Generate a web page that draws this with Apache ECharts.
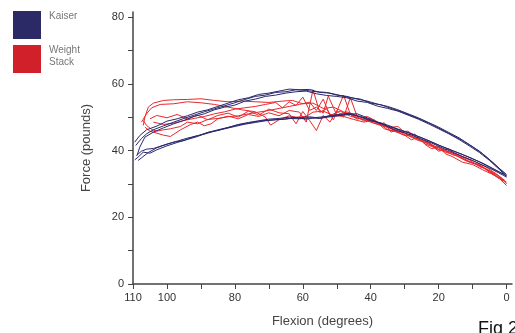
<!DOCTYPE html>
<html>
<head>
<meta charset="utf-8">
<script src="https://cdn.jsdelivr.net/npm/echarts@6/dist/echarts.min.js"></script>
<style>
html,body{margin:0;padding:0;background:#fff;}
#chart{width:515px;height:333px;}
</style>
</head>
<body>
<div id="chart"></div>
<script>
// ---- data (flexion degrees, force pounds) ----
const legendNames = ['Kaiser', 'Weight Stack'];
const xTickValues = [0, 10, 20, 30, 40, 50, 60, 70, 80, 90, 100, 110];
const xLabelValues = [0, 20, 40, 60, 80, 100, 110];
const yTickValues = [0, 10, 20, 30, 40, 50, 60, 70, 80];
const yLabelValues = [0, 20, 40, 60, 80];

const kaiser1 = [[109.2,41.5],[107.5,43.6],[106,45],[104,46.2],[101,47.4],[98,48.5],[95,49.6],[92,50.6],[89,51.6],[86,52.5],[83,53.4],[80,54.3],[77,55.3],[74,56.2],[71,56.6],[68,57.4],[65,57.6],[62,58.2],[59,58],[56,57.6],[53,57.4],[50,56.6],[47,56.2],[44,55.4],[41,54.8],[38,53.9],[35,53.2],[32,52.2],[29,51],[26,49.8],[23,48.4],[20,47],[17,45.4],[14,43.8],[11,41.8],[8,39.8],[5,37.2],[2,34.5],[0.3,33]];
const kaiser2 = [[108.8,38.5],[108,41],[106.5,44],[104,45.5],[101,46.8],[98,48],[95,49],[92,50.2],[89,51],[86,52.2],[83,53],[80,53.6],[77,54.8],[74,55.4],[71,56.2],[68,56.6],[65,57.2],[62,57.6],[59,57.8],[56,57],[53,56.5],[50,56.2],[47,55.8],[44,54.8],[41,54.4],[38,53.3],[35,52.6],[32,51.8],[29,50.6],[26,49.4],[23,48],[20,46.5],[17,45],[14,43.3],[11,41.4],[8,39.4],[5,37],[2,34.2],[0.3,32.6]];
const kaiser3 = [[109.5,42.5],[108,44.5],[106,46.2],[103,47.3],[100,48.8],[97,49.5],[94,50.4],[91,51.5],[88,52.2],[85,53.2],[82,54.2],[79,55.2],[76,55.8],[73,56.8],[70,57.2],[67,57.8],[64,58.4],[61,58.2],[58,58.3],[55,57.4],[52,57.2],[49,56.5],[46,55.8],[43,55.4],[40,54.2],[37,53.7],[34,52.6],[31,51.6],[28,50.4],[25,49.2],[22,47.8],[19,46.2],[16,44.6],[13,43],[10,41.1],[7,39],[4,36.4],[1,33.6],[0,32.8]];
const kaiser4 = [[109.5,37.2],[108.5,38],[107,39.5],[105,39.2],[103,40.2],[100,41.4],[97,42.4],[94,43.3],[91,44.2],[88,45.4],[85,46],[82,46.9],[79,47.7],[76,48.2],[73,48.8],[70,49.1],[67,49.3],[64,49.6],[61,49.5],[58,49.8],[55,49.6],[52,50.1],[49,50.5],[46,50.8],[43,50.2],[40,49.2],[37,48],[34,47],[31,46],[28,45],[25,43.8],[22,42.5],[19,41.2],[16,40],[13,38.8],[10,37.5],[7,36.2],[4,34.6],[1,33],[0,32.3]];
const kaiser5 = [[109,38.5],[107.5,39.8],[106,40.4],[104,40.6],[101,41.6],[98,42.5],[95,43],[92,44.2],[89,44.9],[86,45.8],[83,46.5],[80,47.2],[77,47.9],[74,48.4],[71,48.9],[68,49.2],[65,49.4],[62,49.8],[59,49.4],[56,49.9],[53,50.2],[50,50.4],[47,50.9],[44,51],[41,49.8],[38,48.4],[35,47.6],[32,46.4],[29,45.4],[26,44.2],[23,43],[20,41.6],[17,40.4],[14,39.2],[11,38],[8,36.6],[5,35],[2,33.4],[0,32.5]];
const kaiser6 = [[108.5,37],[107.5,37.8],[105.5,39.4],[103,40.8],[100,41.9],[97,42.8],[94,43.7],[91,44.4],[88,45.4],[85,46.2],[82,46.9],[79,47.8],[76,48.4],[73,48.9],[70,49.4],[67,49.6],[64,50],[61,49.8],[58,50.1],[55,49.7],[52,50.5],[49,50.8],[46,51.2],[43,50],[40,48.9],[37,48.3],[34,46.6],[31,45.6],[28,44.6],[25,43.4],[22,42.2],[19,40.8],[16,39.6],[13,38.2],[10,37],[7,35.6],[4,34.2],[1,32.6],[0,32]];

const stack1 = [[107,47.5],[106.5,50],[105.5,53],[104,54.2],[101,55],[98,55.2],[94,55.3],[90,55.5],[86,55],[82,54.6],[78,54.8],[74,54.6],[70,54.4],[66,54.8],[63,55],[60,54],[57,54.2],[54,52.6],[51,53],[48,51.6],[45,50.5],[42,49.8],[39,48.2],[36,47.5],[33,46],[30,45.2],[27,43.8],[24,42.8],[21,41.2],[18,40],[15,39],[12,37.8],[9,36.5],[6,35],[3,33],[0.5,31]];
const stack2 = [[107.5,48.5],[106,51],[104.5,52.8],[102,53.8],[98,54],[94,54.6],[90,54.3],[86,53.8],[82,53],[78,52.2],[74,51.6],[71,50],[69.5,47.6],[67,49.2],[64,50.4],[62,50],[59,50.2],[57,51.5],[54,51.8],[51,50.5],[48,50.2],[45,49.3],[42,48.5],[39,49.2],[36,46.5],[33,45.8],[30,44.5],[27,44.9],[24,42],[21,40.8],[18,39.5],[15,38.6],[12,37],[9,36],[6,34.5],[3,32.5],[0,30.5]];
const stack3 = [[107,49],[106,47.5],[104.5,46.3],[103,45.8],[101,46.2],[99,46.5],[96,47.2],[94,48.5],[91,48],[88,49.3],[85,49.6],[82,50.1],[79,50.4],[76,51],[73,51.5],[70,52],[67,52.6],[64,53.2],[61,53.8],[58,54.5],[56,52],[54,55.4],[52,50.5],[49,51.8],[46,50.3],[43,49.5],[40,48.5],[37,47.5],[34,46.8],[31,45],[28,44.2],[25,42.8],[22,41.5],[19,40.5],[16,38.8],[13,37.8],[10,36.2],[7,35],[4,33],[1,30.8]];
const stack4 = [[106.5,47],[105,45.8],[103,45.2],[101,44.6],[99,44.2],[96,46.2],[93,47.8],[91,48.5],[89,47.4],[87,48],[85,49.5],[82,50.3],[79,49.5],[76,50.8],[73,50.2],[70,51.3],[67,50.4],[64,52],[61,51.5],[59,48.5],[57,58.2],[55,51.4],[53,52.5],[51,49.2],[48,56.6],[46,50.8],[44,49.4],[41,50.2],[38,48.6],[35,46.8],[32,47.2],[29,44.5],[26,43],[23,42.2],[20,39.8],[17,40.5],[14,38],[11,36.5],[8,35.8],[5,33.5],[2,31.5],[0,29.5]];
const stack5 = [[105,49.5],[103,50.5],[100,49.8],[97,50.8],[94,49.5],[91,50.6],[88,49.2],[85,50.5],[82,51.2],[79,50],[76,51.8],[73,50.6],[70,52.4],[67,51.3],[64,51],[62,48],[60,51.7],[58,49],[56,46],[54,50.5],[52,48.5],[50,52],[48,50],[46,55.8],[44,50.2],[42,48.8],[40,49.6],[38,47.8],[36,48.3],[34,45.5],[32,46.4],[30,44.6],[28,43.2],[26,44],[24,41.8],[22,40.5],[20,41.2],[18,39],[16,38.2],[13,36.5],[10,35.8],[7,34.2],[4,32.8],[1,31]];
const stack6 = [[104,48.5],[101,47.8],[98,48.2],[95,49],[92,49.6],[89,50.2],[86,51],[83,51.6],[80,52.4],[77,52.8],[74,53.2],[71,53.8],[68,54.4],[66,52.8],[64,54.6],[62,53.5],[60,56],[58,52],[56,53],[54,51.2],[52.5,56.3],[50,50.6],[47,51.6],[44,49.8],[41,49],[38,48.5],[35,46.2],[32,45.5],[29,45.8],[26,43.5],[23,42.5],[20,40.2],[17,39.6],[14,38.5],[11,37.2],[8,35.2],[5,34],[2,32.2],[0,30]];

const kaiserTraces = [kaiser1, kaiser2, kaiser3, kaiser4, kaiser5, kaiser6];
const stackTraces = [stack1, stack2, stack3, stack4, stack5, stack6];

// ---- styling ----
const NAVY = '#28286c';
const RED = '#e8282c';
const AXIS = '#444';
const FONT = 'Liberation Sans, Arial, sans-serif';

function mk(name, data, color) {
  return {
    name: name, type: 'line', data: data, showSymbol: false, symbol: 'none',
    smooth: false, lineStyle: { color: color, width: 1 }, itemStyle: { color: color },
    emphasis: { disabled: true }, silent: true, z: 2
  };
}
const series = [];
stackTraces.forEach(t => series.push(mk(legendNames[1], t, RED)));
kaiserTraces.forEach(t => series.push(mk(legendNames[0], t, NAVY)));

const chart = echarts.init(document.getElementById('chart'), null, { renderer: 'canvas' });
chart.setOption({
  animation: false,
  backgroundColor: '#fff',
  textStyle: { fontFamily: FONT },
  grid: { left: 133, right: 3, top: 12, bottom: 48, containLabel: false },
  xAxis: {
    type: 'value', inverse: true, min: -1.6, max: 110,
    name: 'Flexion (degrees)', nameLocation: 'middle', nameGap: 31,
    nameTextStyle: { fontSize: 13, color: '#444', fontFamily: FONT },
    axisLine: { show: true, onZero: false, lineStyle: { color: AXIS, width: 1.5 } },
    axisTick: { show: true, length: 5, lineStyle: { color: AXIS, width: 1 }, customValues: xTickValues },
    axisLabel: { fontSize: 11, color: '#333', margin: 8, customValues: xLabelValues, fontFamily: FONT },
    splitLine: { show: false }
  },
  yAxis: {
    type: 'value', min: 0, max: 81.5, position: 'left',
    name: 'Force (pounds)', nameLocation: 'middle', nameGap: 40,
    nameTextStyle: { fontSize: 13, color: '#444', fontFamily: FONT },
    axisLine: { show: true, onZero: false, lineStyle: { color: AXIS, width: 1.5 } },
    axisTick: { show: true, length: 5, lineStyle: { color: AXIS, width: 1 }, customValues: yTickValues },
    axisLabel: { fontSize: 11, color: '#333', margin: 9, customValues: yLabelValues, fontFamily: FONT },
    splitLine: { show: false }
  },
  legend: { show: false },
  graphic: [
    { type: 'rect', left: 13, top: 11, shape: { width: 28, height: 28 }, style: { fill: '#2b2a66' } },
    { type: 'rect', left: 13, top: 45, shape: { width: 28, height: 28 }, style: { fill: '#d2202a' } },
    { type: 'text', left: 49, top: 11, style: { text: legendNames[0], fontSize: 10, fill: '#777', fontFamily: FONT } },
    { type: 'text', left: 49, top: 44, style: { text: 'Weight\nStack', fontSize: 10, lineHeight: 12, fill: '#777', fontFamily: FONT } },
    { type: 'text', left: 478, top: 320, style: { text: 'Fig 2', fontSize: 18, fill: '#111', fontFamily: FONT } }
  ],
  series: series
});
</script>
</body>
</html>
